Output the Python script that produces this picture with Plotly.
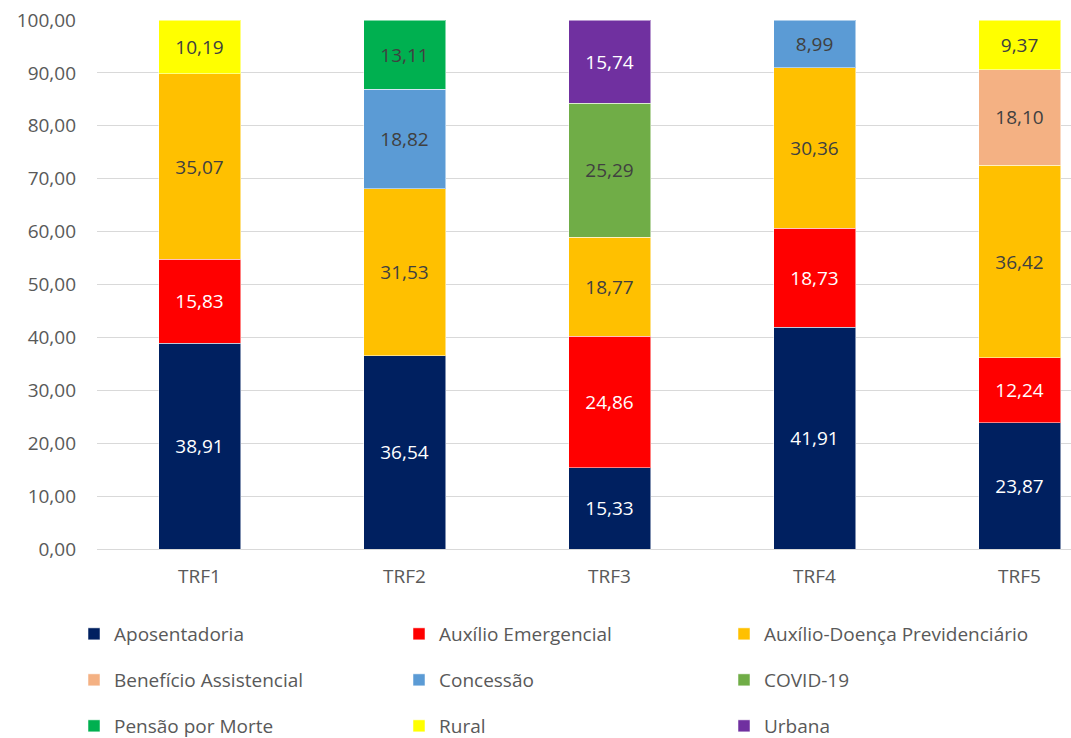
import plotly.graph_objects as go

categories = ["TRF1", "TRF2", "TRF3", "TRF4", "TRF5"]

series_names = [
    "Aposentadoria", "Auxílio Emergencial", "Auxílio-Doença Previdenciário",
    "Benefício Assistencial", "Concessão", "COVID-19",
    "Pensão por Morte", "Rural", "Urbana",
]
aposentadoria = [38.91, 36.54, 15.33, 41.91, 23.87]
auxilio_emergencial = [15.83, None, 24.86, 18.73, 12.24]
auxilio_doenca = [35.07, 31.53, 18.77, 30.36, 36.42]
beneficio_assistencial = [None, None, None, None, 18.10]
concessao = [None, 18.82, None, 8.99, None]
covid19 = [None, None, 25.29, None, None]
pensao_morte = [None, 13.11, None, None, None]
rural = [10.19, None, None, None, 9.37]
urbana = [None, None, 15.74, None, None]

values = [aposentadoria, auxilio_emergencial, auxilio_doenca, beneficio_assistencial,
          concessao, covid19, pensao_morte, rural, urbana]
colors = ["#002060", "#FF0000", "#FFC000", "#F4B183", "#5B9BD5", "#70AD47",
          "#00B050", "#FFFF00", "#7030A0"]
text_colors = ["#FFFFFF", "#FFFFFF", "#404040", "#404040", "#404040", "#404040",
               "#404040", "#404040", "#FFFFFF"]
legend_ids = ["legend", "legend", "legend", "legend2", "legend2", "legend2",
              "legend3", "legend3", "legend3"]

FONT = "'Open Sans', Lato, sans-serif"
FS = 19

fig = go.Figure()
for name, vals, col, tcol, lg in zip(series_names, values, colors, text_colors, legend_ids):
    fig.add_trace(go.Bar(
        x=categories, y=vals, name=name,
        marker=dict(color=col, line=dict(color="rgba(255,255,255,0.5)", width=1)),
        texttemplate="%{y:.2f}", textposition="inside", insidetextanchor="middle",
        textangle=0, textfont=dict(color=tcol, size=FS, family=FONT),
        legend=lg,
    ))

W, H = 1071, 738
ML, MT = 97, 20
MB = H - 549
PW = W - ML
PH = H - MT - MB

def px_x(px):  # window px -> paper x
    return (px - ML) / PW

def px_y(py):  # window px -> paper y
    return (H - MB - py) / PH

leg_common = dict(orientation="h", entrywidth=280, entrywidthmode="pixels",
                  font=dict(size=FS, color="#595959", family=FONT),
                  xanchor="left", yanchor="middle", bgcolor="rgba(0,0,0,0)",
                  itemclick=False, itemdoubleclick=False, traceorder="normal")

fig.update_layout(
    width=W, height=H,
    margin=dict(l=ML, r=0, t=MT, b=MB, pad=0, autoexpand=False),
    barmode="stack", bargap=0.6,
    separators=",.",
    plot_bgcolor="white", paper_bgcolor="white",
    font=dict(family=FONT, size=FS, color="#595959"),
    xaxis=dict(type="category", range=[-0.5, 4.251], showgrid=False,
               showline=False, ticks="", ticklabelstandoff=14,
               tickfont=dict(size=FS, color="#595959"), fixedrange=True),
    yaxis=dict(range=[0, 100], dtick=10, tickformat=".2f", showgrid=True,
               gridcolor="#D9D9D9", gridwidth=1, zeroline=True, zerolinecolor="#D9D9D9",
               zerolinewidth=1, showline=False, ticks="", ticklabelstandoff=20,
               tickfont=dict(size=FS, color="#595959"), fixedrange=True),
    legend=dict(x=px_x(74), y=px_y(634), **leg_common),
    legend2=dict(x=px_x(74), y=px_y(680), **leg_common),
    legend3=dict(x=px_x(74), y=px_y(726), **leg_common),
    uniformtext=dict(minsize=FS, mode="show"),
)

fig.write_html(
    "out.html",
    config={"displayModeBar": False, "staticPlot": True},
    post_script="document.body.style.margin='0';document.body.style.overflow='hidden';",
)
